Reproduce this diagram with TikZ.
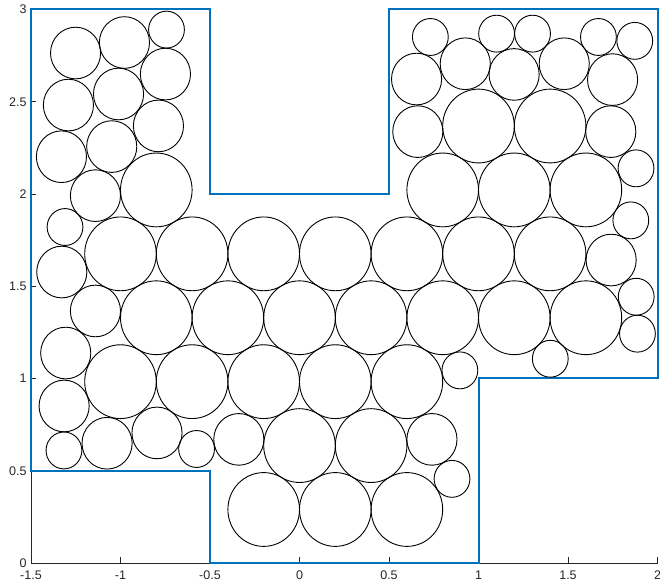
\documentclass[tikz,border=0pt]{standalone}
\usepackage{fontspec}
\usepackage{tikz}
\setmainfont{Liberation Sans}
\definecolor{MatBlue}{HTML}{0072BD}
\definecolor{AxisGray}{HTML}{262626}

\begin{document}
\begin{tikzpicture}[x=179pt,y=184.5pt,font=\fontsize{12.5}{15}\selectfont]
\tikzstyle{disc}=[draw=black,line width=0.9pt]
\tikzstyle{axisline}=[draw=AxisGray,line width=0.9pt]
\tikzstyle{ticklab}=[text=AxisGray,inner sep=0pt]
\useasboundingbox (-1.6732,-0.1084) rectangle (2.0140,3.0515);
% axes
\coordinate (o) at (-1.5,0);
\coordinate (xe) at (2,0);
\coordinate (ye) at (-1.5,3);
\draw[axisline] (ye) -- (o) -- (xe);
\foreach \t in {-1.5,-1,-0.5,0,0.5,1,1.5,2}
  \draw[axisline] (\t,0) -- ++(0,0.03) node[ticklab,anchor=north,yshift=-7pt] at (\t,0) {\t};
\foreach \t in {0,0.5,1,1.5,2,2.5,3}
  \draw[axisline] (-1.5,\t) -- ++(0.03,0) node[ticklab,anchor=east,xshift=-4pt] at (-1.5,\t) {\t};
% region
\draw[MatBlue,line width=2pt,line join=miter]
  (-1.5,3) -- (-0.5,3) -- (-0.5,2) -- (0.5,2) -- (0.5,3) -- (2,3) -- (2,1)
  -- (1,1) -- (1,0) -- (-0.5,0) -- (-0.5,0.5) -- (-1.5,0.5) -- cycle;
% large circles on the lattice
\foreach \k/\xs in {0/{-0.2,0.2,0.6},1/{0,0.4},2/{-1,-0.6,-0.2,0.2,0.6},
    3/{-0.8,-0.4,0,0.4,0.8,1.2,1.6},4/{-1,-0.6,-0.2,0.2,0.6,1,1.4},
    5/{-0.8,0.8,1.2,1.6},6/{1,1.4}}
  \foreach \cx in \xs
    \draw[disc] (\cx,{0.29+\k*0.3464}) circle[radius=0.2];
% medium circles
\foreach \cx/\cy in {-1.251/2.764,-0.978/2.821,-1.291/2.482,-1.011/2.542,
    -0.749/2.650,-1.330/2.202,-1.049/2.257,-0.788/2.369,-1.140/1.991,
    -1.328/1.577,-1.140/1.366,-1.306/1.138,-1.315/0.851,-1.075/0.649,
    -0.796/0.705,-0.339/0.670,0.740/0.670,1.741/1.642,0.926/2.706,
    1.199/2.648,1.479/2.706,0.654/2.623,1.749/2.620,0.661/2.338,1.739/2.338}
  \draw[disc] (\cx,\cy) circle[radius=0.14];
% small circles
\foreach \cx/\cy in {-0.743/2.891,-1.310/1.821,-1.316/0.610,-0.575/0.618,
    0.852/0.456,0.896/1.044,1.401/1.107,1.851/1.857,1.881/1.443,1.888/1.243,
    0.731/2.851,1.101/2.869,1.302/2.869,1.670/2.851,1.873/2.830,1.880/2.139}
  \draw[disc] (\cx,\cy) circle[radius=0.1];
\end{tikzpicture}
\end{document}
